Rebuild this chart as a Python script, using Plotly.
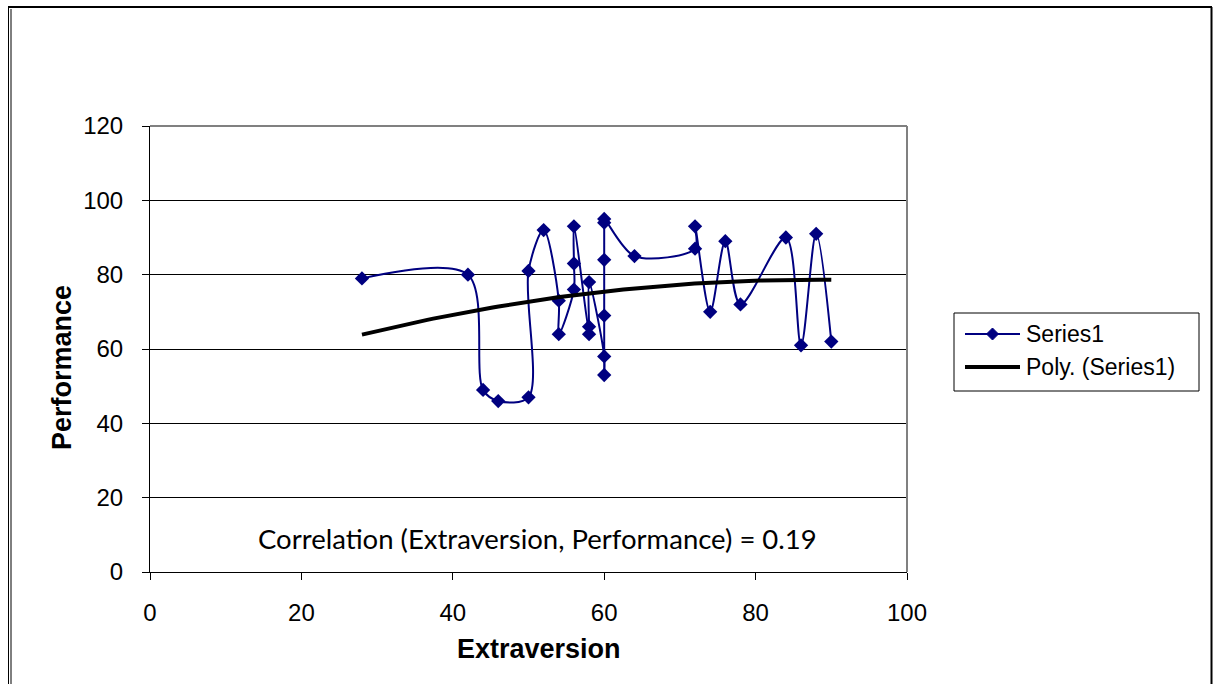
import numpy as np
import plotly.graph_objects as go

# Extraversion / performance observations, in series order
extraversion = [28, 42, 44, 46, 50, 50, 52, 54, 54, 56, 56, 56, 58, 58, 58,
                60, 60, 60, 60, 60, 60, 64, 72, 72, 74, 76, 78, 84, 86, 88, 90]
performance = [79, 80, 49, 46, 47, 81, 92, 73, 64, 76, 83, 93, 64, 66, 78,
               58, 53, 69, 84, 94, 95, 85, 87, 93, 70, 89, 72, 90, 61, 91, 62]

x_ticks = [0, 20, 40, 60, 80, 100]
y_ticks = [0, 20, 40, 60, 80, 100, 120]
series_names = ["Series1", "Poly. (Series1)"]
correlation_text = "Correlation (Extraversion, Performance) = 0.19"

# second-order polynomial trend over the observed range
coef = np.polyfit(extraversion, performance, 2)
trend_x = np.linspace(min(extraversion), max(extraversion), 80)
trend_y = np.polyval(coef, trend_x)

W, H = 1213, 684
L, R, T, B = 150, 907, 126, 572  # plot area in pixels


def px(x):
    return (x - L) / (R - L)


def py(y):
    return (B - y) / (B - T)


NAVY = "#000080"
ARIAL = "Liberation Sans, Arial, sans-serif"

fig = go.Figure()
fig.add_trace(go.Scatter(
    x=extraversion, y=performance, name=series_names[0],
    mode="lines+markers",
    line=dict(color=NAVY, width=2, shape="spline", smoothing=0.9),
    marker=dict(symbol="diamond", size=11, color=NAVY),
))
fig.add_trace(go.Scatter(
    x=trend_x, y=trend_y, name=series_names[1],
    mode="lines", line=dict(color="black", width=4),
))

axis_font = dict(family=ARIAL, size=24, color="black")
fig.update_xaxes(
    range=[0, 100], tickvals=x_ticks, showgrid=False, zeroline=False,
    showline=True, linecolor="black", linewidth=1,
    ticks="outside", ticklen=7, tickcolor="black", tickfont=axis_font,
    ticklabelstandoff=12,
)
fig.update_yaxes(
    range=[0, 120], tickvals=y_ticks, showgrid=True, gridcolor="black",
    gridwidth=1, zeroline=False,
    showline=True, linecolor="black", linewidth=1,
    ticks="outside", ticklen=7, tickcolor="black", tickfont=axis_font,
    ticklabelstandoff=14,
)


def hline(x0, x1, y, color, width):
    return dict(type="line", xref="paper", yref="paper", x0=px(x0), x1=px(x1),
                y0=py(y), y1=py(y), line=dict(color=color, width=width))


def vline(x, y0, y1, color, width):
    return dict(type="line", xref="paper", yref="paper", x0=px(x), x1=px(x),
                y0=py(y0), y1=py(y1), line=dict(color=color, width=width))


# legend box geometry (pixels)
LG_L, LG_R, LG_T, LG_B = 954, 1199, 313, 391
ROW1, ROW2 = 334, 367
SYM_L, SYM_R, TXT_X = 965, 1020, 1024
dcx, dr = (SYM_L + SYM_R) / 2, 6
diamond = "M {} {} L {} {} L {} {} L {} {} Z".format(
    px(dcx), py(ROW1 - dr), px(dcx + dr), py(ROW1),
    px(dcx), py(ROW1 + dr), px(dcx - dr), py(ROW1))

shapes = [
    # grey top and right edges of the plot area
    dict(type="line", xref="paper", yref="paper", x0=0, x1=1, y0=1, y1=1,
         line=dict(color="#808080", width=2), layer="above"),
    dict(type="line", xref="paper", yref="paper", x0=1, x1=1, y0=0, y1=1,
         line=dict(color="#808080", width=2), layer="above"),
    # outer chart frame
    hline(8, 1212, 7, "black", 2),
    vline(8.5, 7, 700, "black", 1),
    vline(11, 9, 700, "black", 1),
    vline(1211.5, 7, 700, "black", 2),
    # legend
    dict(type="rect", xref="paper", yref="paper",
         x0=px(LG_L), x1=px(LG_R), y0=py(LG_B), y1=py(LG_T),
         line=dict(color="black", width=1), fillcolor="white"),
    hline(SYM_L, SYM_R, ROW1, NAVY, 2),
    dict(type="path", xref="paper", yref="paper", path=diamond,
         fillcolor=NAVY, line=dict(color=NAVY, width=1)),
    hline(SYM_L, SYM_R, ROW2, "black", 4),
]

annotations = [
    dict(text="<b>Extraversion</b>", xref="paper", yref="paper",
         x=px(539), y=py(649), xanchor="center", yanchor="middle",
         showarrow=False, font=dict(family=ARIAL, size=27, color="black")),
    dict(text="<b>Performance</b>", xref="paper", yref="paper",
         x=px(62), y=py(368), xanchor="center", yanchor="middle",
         showarrow=False, textangle=-90,
         font=dict(family=ARIAL, size=27, color="black")),
    dict(text=correlation_text, xref="paper", yref="paper",
         x=px(537), y=py(538), xanchor="center", yanchor="middle",
         showarrow=False, font=dict(family="Lato, sans-serif", size=27.5, color="black")),
]
for name, row in zip(series_names, [ROW1, ROW2]):
    annotations.append(dict(
        text=name, xref="paper", yref="paper", x=px(TXT_X), y=py(row),
        xanchor="left", yanchor="middle", showarrow=False,
        font=dict(family=ARIAL, size=23, color="black")))

fig.update_layout(
    width=W, height=H,
    margin=dict(l=L, r=W - R, t=T, b=H - B),
    paper_bgcolor="white", plot_bgcolor="white",
    showlegend=False,
    shapes=shapes,
    annotations=annotations,
)

fig.write_html("out.html")
